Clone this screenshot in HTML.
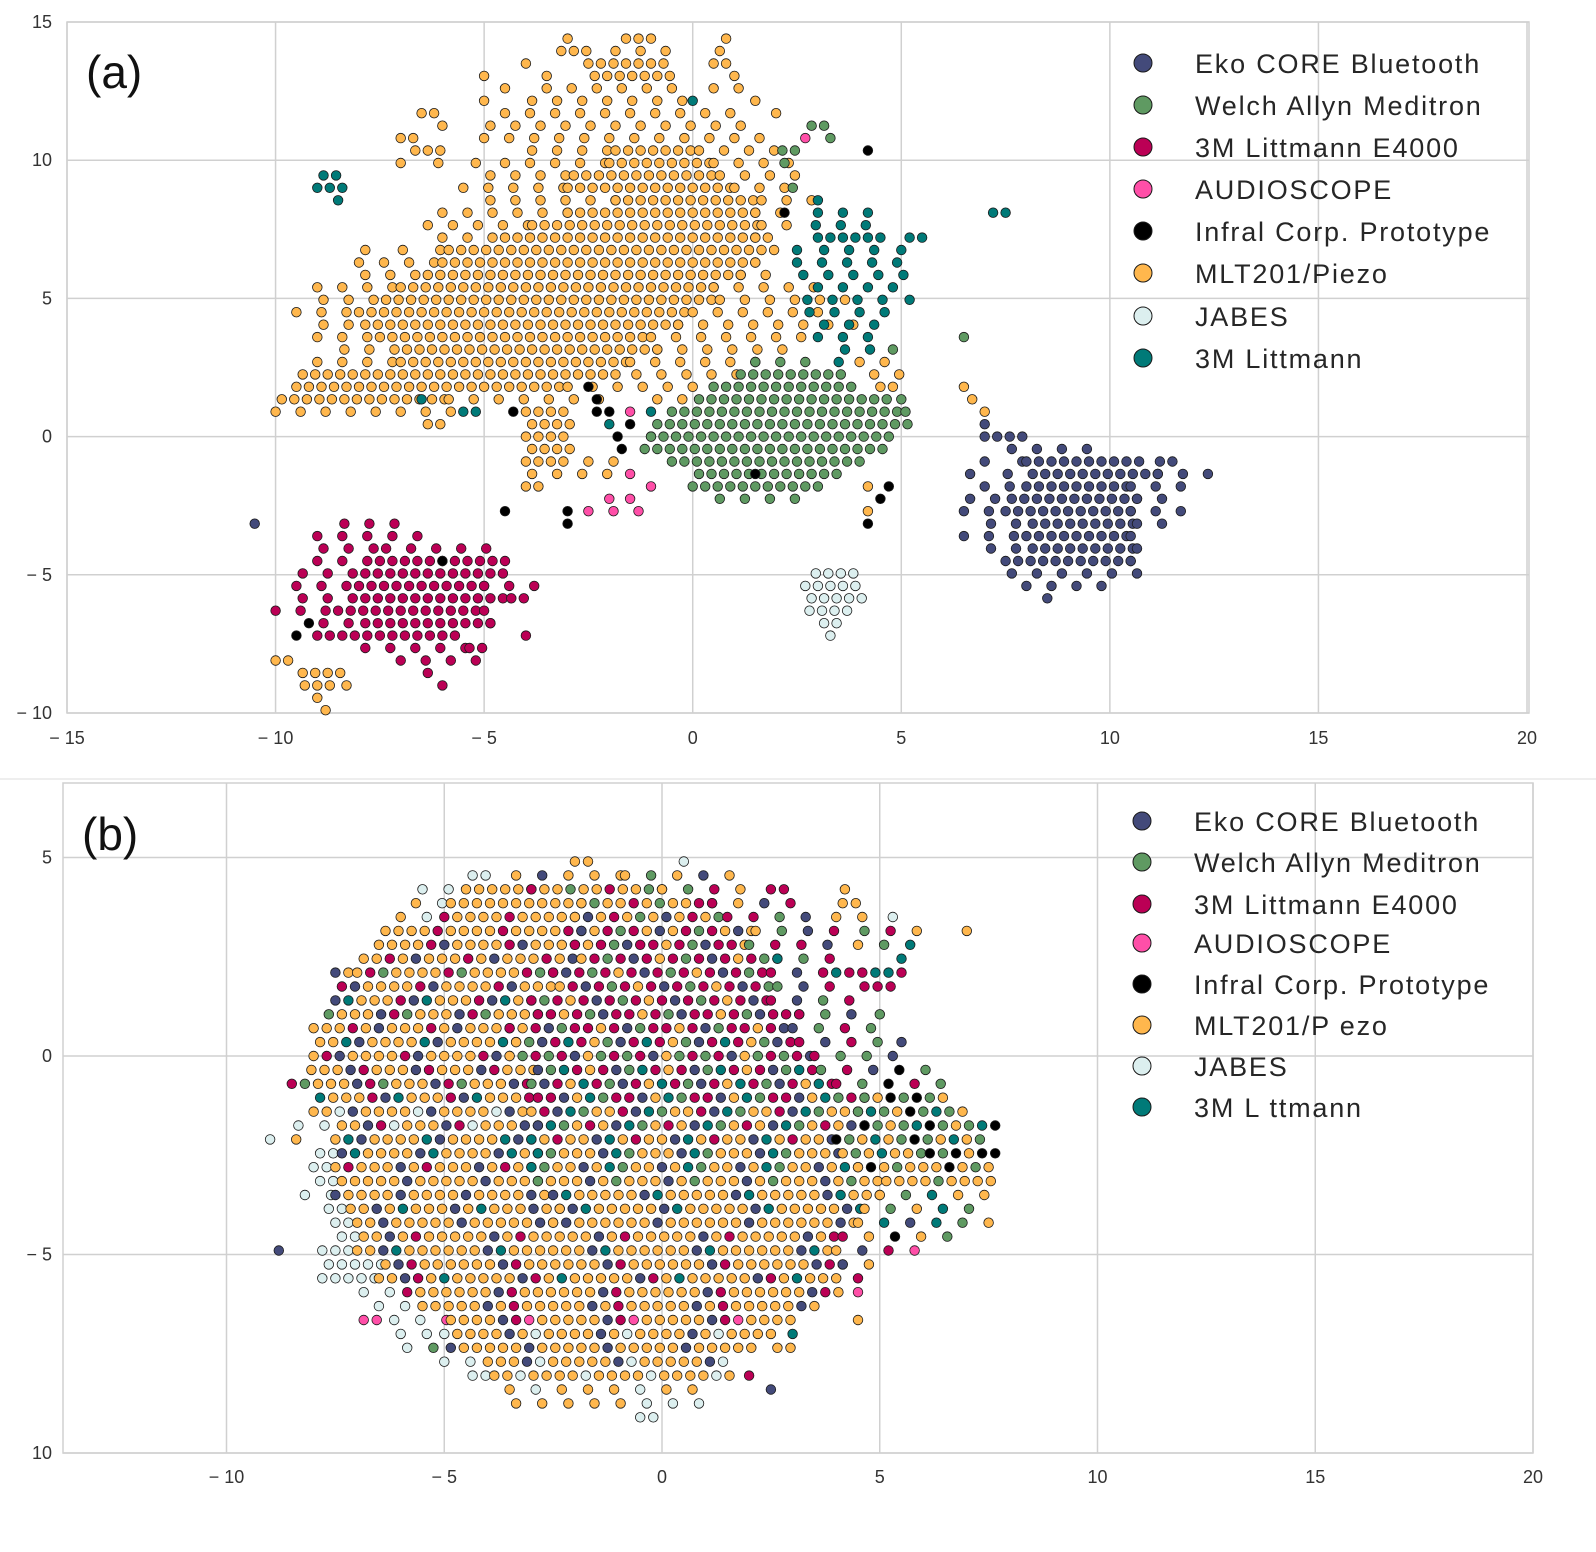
<!DOCTYPE html>
<html><head><meta charset="utf-8"><style>
html,body{margin:0;padding:0;background:#fff}
svg{display:block}
text{font-family:"Liberation Sans",sans-serif}
</style></head><body>
<svg id="chart" width="1596" height="1552" viewBox="0 0 1596 1552" xmlns="http://www.w3.org/2000/svg">
<rect width="1596" height="1552" fill="#fff"/>
<g id="panelA"></g>
<g id="panelB"></g>
</svg>
<script>
// ---------- data ----------
const categories = ["Eko CORE Bluetooth","Welch Allyn Meditron","3M Littmann E4000","AUDIOSCOPE","Infral Corp. Prototype","MLT201/Piezo","JABES","3M Littmann"];
const categoriesB = ["Eko CORE Bluetooth","Welch Allyn Meditron","3M Littmann E4000","AUDIOSCOPE","Infral Corp. Prototype","MLT201/P ezo","JABES","3M L ttmann"];
const catCodes = ["n","g","c","p","k","o","j","t"];
const catColors = {n:"#434a7a",g:"#5f9a62",c:"#bb0055",p:"#ff4fa8",k:"#000000",o:"#ffb74d",j:"#dcefef",t:"#007a78"};
const xTicksA = [-15,-10,-5,0,5,10,15,20];
const yTicksA = [15,10,5,0,-5,-10];
const xTicksB = [-10,-5,0,5,10,15,20];
const yTicksB = [5,0,-5,-10];
const yTickLabelsB = ["5","0","\u2212 5","10"];
// Panel (a) point density map: [y, "x0 x1 palette step; ..."]
const rowsA = [
[14.40,"-3 -2.8 o 1; -1.6 -1 o 1; 0.8 0.8 o 1"],
[13.95,"-3.3 -2.7 o 1; -2 -0.7 o 2; 0.5 0.6 o 1"],
[13.50,"-4 -4 o 1; -2.5 -0.5 o 1; 0.5 0.8 o 1"],
[13.05,"-5 -5 o 1; -3.5 -3.5 o 1; -2.5 -0.5 o 1; 1 1 o 1"],
[12.60,"-4.5 -4.5 o 1; -3.5 -0.5 o 2; 0.5 1.5 o 2"],
[12.15,"-5 -5 o 1; -4 0 o 2; 0 0 t 1; 1.5 1.5 o 1"],
[11.70,"-6.5 -6 o 1; -4.5 1 o 2; 2 2 o 1"],
[11.25,"-6 -6 o 1; -5 1.5 o 2; 2.7 3.1 g 1"],
[10.80,"-7 -6.5 o 1; -5 2 o 2; 2.7 2.7 p 1; 3.3 3.5 g 1"],
[10.35,"-6.8 -6 o 1; -4 -2 o 2; -2 0 o 1; 0 2 o 2; 2 2.3 g 1; 4.2 4.2 k 1"],
[9.90,"-7 -5 o 3; -4.5 -2 o 2; -2 0.5 o 1; 0.5 2.5 o 2; 2.2 2.2 g 1"],
[9.45,"-9 -8.5 t 1; -5 -3 o 2; -3 0.5 o 1; 0.5 2.5 o 2"],
[9.00,"-9 -8.4 t 1; -5.5 -3 o 2; -3 1 o 1; 1 2.5 o 2; 2.4 2.4 g 1"],
[8.55,"-8.5 -8.5 t 1; -5 -2 o 2; -2 1.5 o 1; 1.5 3 o 2; 3 3 t 1"],
[8.10,"-6 -3 o 2; -3 1.5 o 1; 1.5 2.5 o 2; 2.2 2.2 k 1; 3 4.5 t 2; 7.2 7.6 t 1"],
[7.65,"-6.5 -4 o 2; -4 1.5 o 1; 1.5 2.5 o 2; 2.8 4 t 2"],
[7.20,"-6 -4.5 o 2; -4.5 1.5 o 1; 1.5 2 o 1; 3 4.5 t 1; 5.2 5.5 t 1"],
[6.75,"-8 -6 o 3; -6 2 o 1; 2.5 2.5 t 1; 3 4.5 t 2; 5 5 t 1"],
[6.30,"-8 -6 o 2; -6 1.5 o 1; 1.5 2 o 2; 2.5 5 t 2"],
[5.85,"-8 -6.5 o 2; -6.5 1 o 1; 1 2 o 2; 2.5 5 t 2"],
[5.40,"-9 -7 o 2; -7 0.5 o 1; 0.5 3 o 2; 3 5 t 2"],
[4.95,"-9 -7.5 o 2; -7.5 0.5 o 1; 0.5 3.5 o 2; 2.6 4.5 t 2; 5.2 5.2 t 1"],
[4.50,"-9.5 -8 o 2; -8 0 o 1; 0 3.5 o 2; 2.8 4.6 t 2"],
[4.05,"-9 -8 o 2; -8 -0.5 o 1; -0.5 4 o 2; 3 4.6 t 2"],
[3.60,"-9 -7.5 o 2; -7.5 -1 o 1; -1 3 o 2; 3 4.5 t 2; 6.5 6.5 g 1"],
[3.15,"-8.5 -7 o 2; -7 -1 o 1; -1 2 o 2; 3.5 4.5 t 2; 4.8 4.8 g 1"],
[2.70,"-9 -7 o 2; -7 -1.5 o 1; -1.5 1.5 o 2; 1.5 3 g 2; 3.5 3.5 t 1; 4 5 o 2"],
[2.25,"-9.5 -2 o 1; -1.5 1 o 2; 1 3.5 g 1; 4.2 5 o 2"],
[1.80,"-9.5 -3 o 1; -3 0.5 o 2; -2.5 -2.5 k 1; 0.5 4 g 1; 4.5 5 o 1; 6.5 6.5 o 1"],
[1.35,"-10 -6 o 1; -6 -2 o 2; -6.5 -6.5 t 1; -2.3 -2.3 k 1; -1 0 o 2; 0 4.5 g 1; 5 5 g 1; 6.7 6.7 o 1"],
[0.90,"-10 -5.5 o 2; -5.5 -5 t 1; -4.3 -4.3 k 1; -4 -3 o 1; -2.3 -2 k 1; -1.5 -1.5 p 1; -1 -1 t 1; -0.5 5 g 1; 5.1 5.1 g 1; 7 7 o 1"],
[0.45,"-6.5 -6 o 1; -4 -3 o 1; -2 -2 t 1; -1.5 -1.5 k 1; -1 5 g 1; 7 7 n 1"],
[0.00,"-4 -3 o 1; -1.8 -1.8 k 1; -1 -1 o 1; -1 4.7 g 1; 7 8 n 1"],
[-0.45,"-4 -3 o 1; -1.7 -1.7 k 1; -1.3 4.5 g 1; 7.5 9.8 n 2"],
[-0.90,"-4 -3 o 1; -2.5 -1.5 o 2; -0.5 4 g 1; 7 8 n 3; 8 10.8 n 1; 11.2 11.6 n 1"],
[-1.35,"-4 -2 o 2; -1.5 -1.5 p 1; 0 3.5 g 1; 1.5 1.5 k 1; 6.5 8 n 3; 8 11 n 1; 11 12.3 n 2"],
[-1.80,"-4 -3.5 o 1; -1 -1 p 1; 0 3 g 1; 4.2 4.2 o 1; 4.7 4.7 k 1; 7 8 n 2; 8 10.5 n 1; 10.5 12 n 2"],
[-2.25,"-2 -2 p 1; -1.5 -1.5 p 1; 0.5 2.5 g 2; 4.5 4.5 k 1; 6.5 7.5 n 2; 7.5 10.5 n 1; 10.5 11.5 n 2"],
[-2.70,"-4.5 -4.5 k 1; -3 -3 k 1; -2.5 -1 p 2; 4.2 4.2 o 1; 6.5 7.5 n 2; 7.5 10.5 n 1; 10.5 12 n 2"],
[-3.15,"-10.5 -10.5 n 1; -8.5 -7 c 2; -3 -3 k 1; 4.2 4.2 k 1; 7 8 n 2; 8 10.5 n 1; 10.5 11.5 n 2"],
[-3.60,"-9 -6.5 c 2; 6.5 8 n 2; 8 10.5 n 1; 10.5 11 n 2"],
[-4.05,"-9 -7.5 c 2; -7.5 -5 c 2; 7 8 n 2; 8 10.5 n 1; 10.5 11 n 2"],
[-4.50,"-9 -7.5 c 2; -7.5 -4.5 c 1; -6 -6 k 1; 7.5 10.5 n 1; 10.5 11 n 2"],
[-4.95,"-9.5 -8 c 2; -8 -4.5 c 1; 7.5 10.5 n 2; 2.8 3.8 j 1"],
[-5.40,"-9.5 -8 c 2; -8 -5 c 1; -5 -3.5 c 2; 8 10 n 2; 2.7 4 j 1"],
[-5.85,"-9.5 -8 c 2; -8 -4.5 c 1; -4.5 -4 c 1; 8.5 8.5 n 1; 2.7 4 j 1"],
[-6.30,"-10 -8.5 c 2; -8.5 -5 c 1; -5 -4.5 c 2; 2.8 3.8 j 1"],
[-6.75,"-9.2 -9.2 k 1; -9 -8 c 2; -8 -5 c 1; -5 -4.5 c 2; 3 3.5 j 1"],
[-7.20,"-9.5 -9.5 k 1; -9 -5.5 c 1; -4 -3.5 c 2; 3.3 3.3 j 1"],
[-7.65,"-8 -5.5 c 2; -5.5 -5 c 1"],
[-8.10,"-10 -9.5 o 1; -7 -5 c 2"],
[-8.55,"-9.5 -8.5 o 1; -6.5 -6 c 2"],
[-9.00,"-9.3 -8.5 o 1; -8.3 -8.3 o 1; -6 -6 c 1"],
[-9.45,"-9 -9 o 1"],
[-9.90,"-8.8 -8.8 o 1"]
];
// Panel (b) point density map
const rowsB = [
[4.90,"-2 -1.5 o 1; 0.5 0.5 j 1"],
[4.55,"-4.5 -4 j 1; -3.5 -1 oono 2; -1 1.5 oogon 2"],
[4.20,"-5.5 -4.5 j 2; -4.5 -3 oooo 1; -3 0 oocoog 1; 0 2 onogc 2; 2.5 3 cc 1; 4.2 4.2 o 1"],
[3.85,"-5.8 -5 jo 2; -5 -2 oooo 1; -2 1 oocog 1; 1 3 ncgco 2; 4 4.5 o 1"],
[3.50,"-6 -5 ooj 2; -5 -2 ooooc 1; -2 1.5 ocogon 1; 1.5 3.5 cgnoc 2; 4 5 oo 2; 5.3 5.5 jt 1"],
[3.15,"-6.5 -2 ooooc 1; -2 2 ocgcon 1; 2 4 cogn 2; 4.5 6 tgco 2; 7 7 o 1"],
[2.80,"-6.5 -2 oooocn 1; -2 2 cocgnc 1; 2 4 cngc 2; 4.5 6 tcog 2"],
[2.45,"-7 -2 ooocon 1; -2 2.5 cocgcn 1; 2.5 4 gcnt 2; 5.5 5.5 t 1"],
[2.10,"-7.5 -7 no 1; -7 -2.5 ooocgo 1; -2.5 2.5 cocncg 1; 2.5 4 cnct 2; 4 5.5 tcct 1"],
[1.75,"-7.5 -2.5 ooocno 1; -2.5 2.5 cgcocn 1; 2.5 4 cgnc 2; 4.5 5.3 ccc 1"],
[1.40,"-7.5 -3 ooocnt 1; -3 2.5 cocncg 1; 2.5 4.5 gcn 2"],
[1.05,"-7.8 -3 oooncg 1; -3 3 cocgnc 1; 3 4.5 gnc 2; 5 5 g 1"],
[0.70,"-8 -3.5 ooocon 1; -3.5 3 cocngc 1; 3 5 ngcg 2"],
[0.35,"-8 -3.5 oootno 1; -3.5 3 cognct 1; 3 5 gcnc 2; 5.5 5.5 n 1"],
[0.00,"-8 -3.5 ooocno 1; -3.5 3.5 cnogcg 1; 3.5 5.5 gncg 2"],
[-0.35,"-8.2 -3 ooonc 1; -3 3.5 cocngt 1; 3.5 6 gcnkg 2"],
[-0.70,"-8.5 -3 oooncg 1; -3 4 cotcgn 1; 4 6.5 gcgkc 2"],
[-1.05,"-8 -3 ooocnt 1; -3 4.5 cnotgc 1; 4.5 6.5 gkgok 1"],
[-1.40,"-8 -3 oojnoo 1; -3 4.5 ocntgo 1; 4.5 7 gokgt 1"],
[-1.75,"-8.5 -7.5 jj 2; -7.5 -3 oooncj 1; -3 4.5 ontgoc 1; 4.5 7.5 gogtk 1"],
[-2.10,"-9 -8 jo 2; -7.5 -3 oootno 1; -3 4 ontoco 1; 4 7.5 ogkgot 1"],
[-2.45,"-8 -7.5 j 1; -7.5 -3 ooonto 1; -3 4 oontgo 1; 4 6 oogot 1; 6 7.5 kkgko 1"],
[-2.80,"-8 -7.5 jj 1; -7.5 -3 ooonoc 1; -3 4.5 oonotg 1; 4.5 7.6 ogoook 1"],
[-3.15,"-8 -7.5 j 1; -7.5 -3 oooono 1; -3 5 ooonog 1; 5 7.6 oogoo 1"],
[-3.50,"-8.2 -7.5 jj 2; -7.5 -2.5 oooon 1; -2.5 5 ooontoo 1; 5 7.5 ogto 2"],
[-3.85,"-7.8 -7.3 jj 1; -7.3 -2.5 ooonot 1; -2.5 4.5 ooooont 1; 4.5 7 ogotg 2"],
[-4.20,"-7.5 -7 j 1; -7 -2.5 oooono 1; -2.5 4.5 oooooon 1; 4.5 7.5 gotnt 2"],
[-4.55,"-7.5 -7 jj 1; -7 4 ooooonoc 1; 4 6.5 ogncok 2"],
[-4.90,"-8.8 -8.8 n 1; -7.8 -7 jj 1; -7 4 oooooont 1; 4 6 oncp 2"],
[-5.25,"-7.8 -6.5 jjj 1; -6.5 4 oooooonc 1; 4 5 onn 2"],
[-5.60,"-7.8 -6.5 jj 1; -6.5 4 oooooncot 1; 4.5 4.5 c 1"],
[-5.95,"-7 -6 jj 2; -6 4 oooooonc 1; 4.5 4.5 p 1"],
[-6.30,"-6.5 -5.5 jj 2; -5.5 3.5 ooooonoc 1"],
[-6.65,"-7 -6.5 pp 1; -6.3 -5 jjp 2; -5 3 oooooncp 1; 4.5 4.5 o 1"],
[-7.00,"-6 -5 jj 2; -5 2.5 oooonoj 1; 3 3 t 1"],
[-7.35,"-6 -5 gj 2; -5 2 ooooon 1; 2.5 3 o 1"],
[-7.70,"-5 -4 jj 2; -4 1.5 oooonjo 1"],
[-8.05,"-4.5 -4 jj 1; -4 1.5 ooooj 1; 2 2 c 1"],
[-8.40,"-3.5 1 oooj 2; 2.5 2.5 n 1"],
[-8.75,"-3.5 -1 oo 2; -0.5 1 jjj 2"],
[-9.10,"-0.5 0 jj 1"]
];
const cellDx = 0.3;

// ---------- helpers ----------
const NS="http://www.w3.org/2000/svg";
function mk(tag, attrs, parent){const e=document.createElementNS(NS,tag);for(const k in attrs)e.setAttribute(k,attrs[k]);parent.appendChild(e);return e;}
const fmt = v => v<0 ? "\u2212 "+Math.abs(v) : String(v);

function buildPanel(g, cfg){
  const {x0,x1,y0,y1,xs,ys,xTicks,yTicks,yLabels,rows,legend,legendX,legendYs,tag,tagX,tagY,xLabelY,r} = cfg;
  xTicks.forEach(t=>{const l=mk("line",{x1:xs(t),x2:xs(t),y1:y0,y2:y1,stroke:"#d0d0d0","stroke-width":1.5},g);
    
    });
  yTicks.forEach(t=>{const l=mk("line",{x1:x0,x2:x1,y1:ys(t),y2:ys(t),stroke:"#d0d0d0","stroke-width":1.5},g);
    
    });
  const fr=mk("rect",{x:x0,y:y0,width:x1-x0,height:y1-y0,fill:"none",stroke:"#d0d0d0","stroke-width":1.5},g);
  
  
  xTicks.forEach(t=>{const tx=mk("text",{x:xs(t),y:xLabelY,"text-anchor":"middle","font-size":18,fill:"#333"},g);tx.textContent=fmt(t);
    
    });
  yTicks.forEach((t,i)=>{const tx=mk("text",{x:52,y:ys(t)+6,"text-anchor":"end","font-size":18,fill:"#333"},g);tx.textContent=yLabels?yLabels[i]:fmt(t);
    
    });
  const pg=mk("g",{},g);
  
  
  rows.forEach((row,ri)=>{
    const y=row[0];
    const off = (ri%2)*cellDx/2;
    row[1].split(";").forEach(seg=>{
      const p=seg.trim().split(/\s+/); if(p.length<4)return;
      const a=+p[0], b=+p[1], pal=p[2], d=+p[3];
      let k=0;
      for(let x=a; x<=b+1e-6; x+=cellDx*d, k++){
        const ch=pal[(k+ri)%pal.length];
        const xx = (a===b)?x:x+off;
        const c=mk("circle",{cx:xs(xx).toFixed(1),cy:ys(y).toFixed(1),r:r,fill:catColors[ch],stroke:"#1a1a1a","stroke-width":0.8},pg);
        
        
      }
    });
  });
  legend.forEach((name,i)=>{
    const c=mk("circle",{cx:legendX,cy:legendYs[i],r:9,fill:catColors[catCodes[i]],stroke:"#1a1a1a","stroke-width":1},g);
    
    
    const t=mk("text",{x:legendX+52,y:legendYs[i]+10,"font-size":27,fill:"#262626","letter-spacing":"1.8"},g);
    t.textContent=name;
    
    
  });
  const tg=mk("text",{x:tagX,y:tagY,"font-size":46,fill:"#111"},g);
  tg.textContent=tag;
  
  
}

buildPanel(document.getElementById("panelA"),{
  x0:67,x1:1529,y0:22,y1:713,
  xs:v=>67+(v+15)*1460/35, ys:v=>22+(15-v)*691/25,
  xTicks:xTicksA,yTicks:yTicksA,rows:rowsA,legend:categories,
  legendX:1143,legendYs:[63,105,147,189,231,273,316,358],
  tag:"(a)",tagX:86,tagY:88,xLabelY:744,r:4.8
});
buildPanel(document.getElementById("panelB"),{
  x0:63,x1:1533,y0:783,y1:1453,
  xs:v=>662+v*43.55, ys:v=>1056-v*39.7,
  xTicks:xTicksB,yTicks:yTicksB,yLabels:yTickLabelsB,rows:rowsB,legend:categoriesB,
  legendX:1142,legendYs:[821,862,904,943,984,1025,1066,1107],
  tag:"(b)",tagX:82,tagY:850,xLabelY:1483,r:4.8
});
const sep=mk("line",{x1:0,x2:1596,y1:779,y2:779,stroke:"#eeeeee","stroke-width":2},document.getElementById("chart"));


</script>
</body></html>
